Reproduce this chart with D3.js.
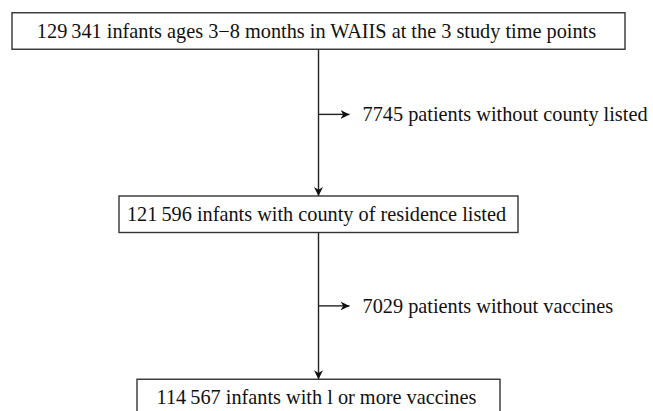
<!DOCTYPE html>
<html>
<head>
<meta charset="utf-8">
<script src="https://cdn.jsdelivr.net/npm/d3@7"></script>
<style>
  body { margin: 0; background: #fff; }
  svg text { font-family: "Liberation Serif", "Times New Roman", serif; fill: #111; }
</style>
</head>
<body>
<div id="chart"></div>
<script>
// flow stages (top to bottom) and the exclusions between them
const stageLabels = [
  "129\u2009341 infants ages 3\u22128 months in WAIIS at the 3 study time points",
  "121\u2009596 infants with county of residence listed",
  "114\u2009567 infants with l or more vaccines"
];
const stageCounts = [129341, 121596, 114567];
const exclusionLabels = [
  "7745 patients without county listed",
  "7029 patients without vaccines"
];
const exclusionCounts = [7745, 7029];

const width = 653, height = 411;
const cx = 318.5;
const fontSize = 20.3;
// box half widths and where each side arrow sits between stages
const boxHalf = [306.5, 199.5, 181.5];
const boxH = 36.5;
const exclAt = [0.455, 1.5];

const svg = d3.select("#chart")
  .append("svg")
  .attr("width", width)
  .attr("height", height);

svg.append("defs").append("marker")
  .attr("id", "arr")
  .attr("viewBox", "0 0 10 10")
  .attr("refX", 10).attr("refY", 5)
  .attr("markerWidth", 9).attr("markerHeight", 9)
  .attr("markerUnits", "userSpaceOnUse")
  .attr("orient", "auto")
  .append("path")
  .attr("d", "M0,0 L10,5 L0,10 L3,5 Z")
  .attr("fill", "#111");

// vertical position of each stage
const y = d3.scaleLinear().domain([0, 2]).range([31, 397.5]);

// connectors between boxes
for (let i = 0; i < stageLabels.length - 1; i++) {
  svg.append("line")
    .attr("x1", cx).attr("x2", cx)
    .attr("y1", y(i) + boxH / 2)
    .attr("y2", y(i + 1) - boxH / 2)
    .attr("stroke", "#222")
    .attr("stroke-width", 1.4)
    .attr("marker-end", "url(#arr)");
}

// exclusions
exclusionLabels.forEach((lab, i) => {
  const yy = y(exclAt[i]);
  svg.append("line")
    .attr("x1", cx).attr("x2", cx + 31)
    .attr("y1", yy).attr("y2", yy)
    .attr("stroke", "#222")
    .attr("stroke-width", 1.4)
    .attr("marker-end", "url(#arr)");
  svg.append("text")
    .attr("x", cx + 44)
    .attr("y", yy)
    .attr("dy", "0.33em")
    .attr("font-size", fontSize)
    .text(lab);
});

// stage boxes
const g = svg.selectAll("g.stage")
  .data(stageLabels)
  .join("g")
  .attr("class", "stage");

g.append("rect")
  .attr("x", (d, i) => cx - boxHalf[i])
  .attr("y", (d, i) => y(i) - boxH / 2)
  .attr("width", (d, i) => boxHalf[i] * 2)
  .attr("height", boxH)
  .attr("fill", "#fff")
  .attr("stroke", "#333")
  .attr("stroke-width", 1.4);

g.append("text")
  .attr("x", cx - 2)
  .attr("y", (d, i) => y(i))
  .attr("dy", "0.33em")
  .attr("text-anchor", "middle")
  .attr("font-size", fontSize)
  .text(d => d);
</script>
</body>
</html>
